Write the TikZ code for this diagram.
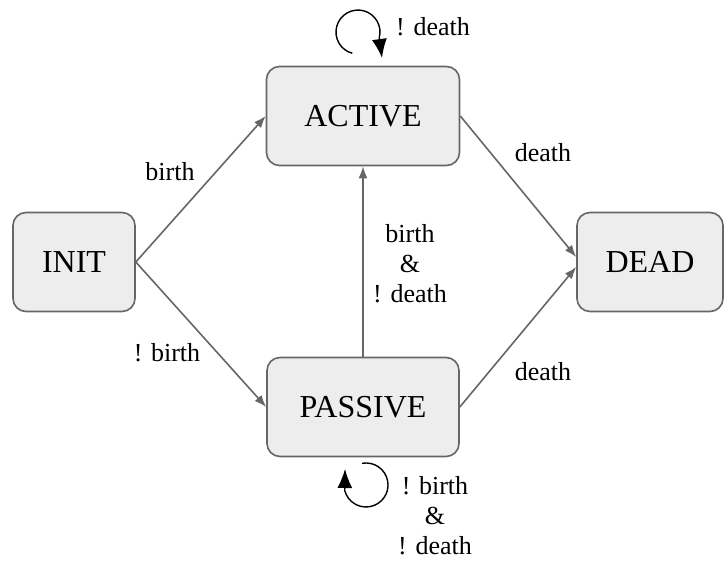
\documentclass[tikz,border=0pt]{standalone}
\usepackage{fontspec}
\setmainfont{Liberation Serif}
\usetikzlibrary{arrows.meta}

\begin{document}
\begin{tikzpicture}[x=1pt,y=-1pt,
    state/.style={draw=black!60, fill=black!7, line width=1.6pt, rounded corners=13pt,
                  inner sep=0pt, minimum height=99pt, font=\fontsize{32}{38}\selectfont},
    trans/.style={draw=black!60, line width=1.6pt, -{Latex[length=12pt,width=9pt]}},
    selfloop/.style={draw=black, line width=1.4pt, -{Latex[length=19pt,width=15pt]}},
    lbl/.style={align=center, font=\fontsize{26}{30}\selectfont}]
        \useasboundingbox (0,0) rectangle (727,560);
        % states
        \node[state, minimum width=122pt] (init) at (74,262) {INIT};
        \node[state, minimum width=193pt] (active) at (363,116) {ACTIVE};
        \node[state, minimum width=192pt] (passive) at (363,407) {PASSIVE};
        \node[state, minimum width=146pt] (dead) at (650,262) {DEAD};
        % transitions
        \draw[trans] (init.east) -- (active.west);
        \draw[trans] (init.east) -- (passive.west);
        \draw[trans] (active.east) -- ([yshift=5pt]dead.west);
        \draw[trans] (passive.east) -- ([yshift=-5pt]dead.west);
        \draw[trans] (passive.north) -- (active.south);
        % self loops
        \coordinate (activeloop) at (352.3,53.3);
        \coordinate (passiveloop) at (362.2,463.3);
        \draw[selfloop] (activeloop) arc[start angle=105, end angle=375, radius=22] -- (382,58);
        \draw[selfloop] (passiveloop) arc[start angle=260, end angle=525, radius=22] -- (345,469);
        % labels
        \node[lbl] (lbirth) at (170,172) {birth};
        \node[lbl] (lnotbirth) at (167,353) {! birth};
        \node[lbl] (ldeathtop) at (543,153) {death};
        \node[lbl] (ldeathbot) at (543,372) {death};
        \node[lbl] (lmid) at (410,264) {birth\\\&\\! death};
        \node[lbl] (lactive) at (433,27) {! death};
        \node[lbl] (lpassive) at (435,516) {! birth\\\&\\! death};
\end{tikzpicture}
\end{document}
